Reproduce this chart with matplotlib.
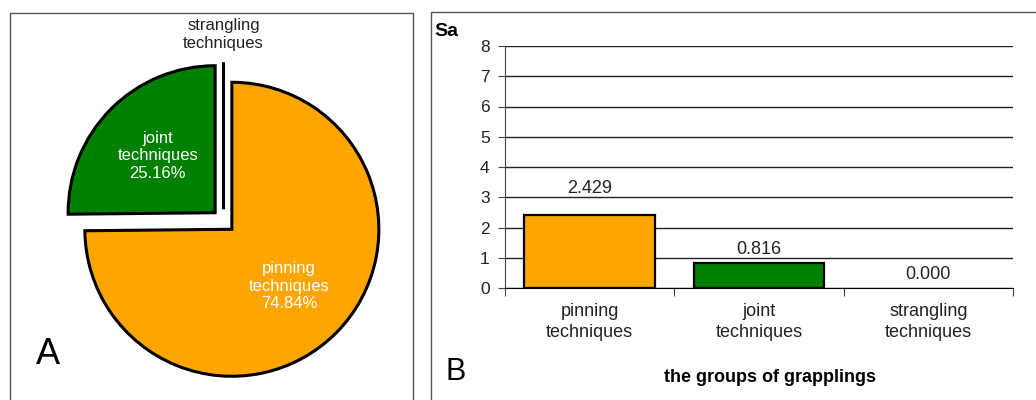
import numpy as np
import matplotlib
matplotlib.use("Agg")
import matplotlib.pyplot as plt
from matplotlib.patches import Rectangle

plt.rcParams['font.family'] = ['Liberation Sans', 'DejaVu Sans']

# pie data (percent)
pie_names = ['pinning\ntechniques', 'joint\ntechniques', 'strangling\ntechniques']
pie_shares = [74.84, 25.16, 0.0]
pie_colors = ['#FFA500', '#008000', '#008000']

# bar data (Sa)
bar_names = ['pinning\ntechniques', 'joint\ntechniques', 'strangling\ntechniques']
sa_values = [2.429, 0.816, 0.000]
bar_colors = ['#FFA500', '#008000', '#008000']
label_pads = [19, 10, 10]

W, H = 1036, 400


def main():
    fig = plt.figure(figsize=(W / 100, H / 100), dpi=100)

    # panel frames
    fig.add_artist(Rectangle((9.5 / W, -0.05), (413 - 9.5) / W, 1.05 - 13 / H,
                             transform=fig.transFigure, fill=False,
                             edgecolor='#555555', lw=1))
    fig.add_artist(Rectangle((431 / W, -0.05), 0.6, 1.05 - 12 / H,
                             transform=fig.transFigure, fill=False,
                             edgecolor='#555555', lw=1))

    # ---- A: pie ----
    R = 147.0
    cx, cy = 223.5, 221.0
    half = 1.2 * R
    ax1 = fig.add_axes([(cx - half) / W, (H - cy - half) / H,
                        2 * half / W, 2 * half / H])
    wedges, _ = ax1.pie(pie_shares, colors=pie_colors, startangle=90,
                        counterclock=False, explode=[0.08] * 3,
                        wedgeprops=dict(edgecolor='black', linewidth=2.2))
    ax1.set_xlim(-1.2, 1.2)
    ax1.set_ylim(-1.2, 1.2)
    ax1.set_aspect('equal')
    ax1.axis('off')

    for w, name, share in zip(wedges, pie_names, pie_shares):
        ang = np.deg2rad((w.theta1 + w.theta2) / 2)
        ox, oy = w.center
        if share > 0:
            d = 0.55
            ax1.text(ox + d * np.cos(ang), oy + d * np.sin(ang),
                     f"{name}\n{share:.2f}%", color='white', fontsize=12,
                     ha='center', va='center', linespacing=1.22)
        else:
            d = 1.19
            ax1.text(ox + d * np.cos(ang), oy + d * np.sin(ang), name,
                     color='#222222', fontsize=12, ha='center', va='center',
                     linespacing=1.3)

    fig.text(36 / W, 1 - 354 / H, 'A', fontsize=26, ha='left', va='center',
             color='black')

    # ---- B: bars ----
    ax2 = fig.add_axes([505 / W, 1 - 288 / H, (1013 - 505) / W, (288 - 46) / H])
    x = np.arange(len(sa_values))
    edge_widths = [1.6 if v > 0 else 0 for v in sa_values]
    bars = ax2.bar(x, sa_values, width=0.77, color=bar_colors,
                   edgecolor='black', linewidth=edge_widths, zorder=3)
    ax2.set_xlim(-0.5, len(sa_values) - 0.5)
    ax2.set_ylim(0, 8)
    ax2.set_yticks(range(0, 9))
    ax2.yaxis.grid(True, color='#222222', lw=1)
    ax2.set_axisbelow(True)
    for s in ['top', 'right']:
        ax2.spines[s].set_visible(False)
    ax2.spines['left'].set_color('#444444')
    ax2.spines['bottom'].set_color('black')
    ax2.tick_params(axis='y', length=5, pad=6, labelsize=12.5,
                    colors='#444444', labelcolor='#222222')
    ax2.set_xticks(np.arange(len(sa_values) + 1) - 0.5)
    ax2.set_xticklabels([])
    ax2.tick_params(axis='x', which='major', length=6, color='#444444')
    ax2.set_xticks(x, minor=True)
    ax2.set_xticklabels(bar_names, minor=True, fontsize=13, color='#222222',
                        linespacing=1.3)
    ax2.tick_params(axis='x', which='minor', length=0, pad=11)

    for b, v, p in zip(bars, sa_values, label_pads):
        ax2.annotate(f"{v:.3f}", (b.get_x() + b.get_width() / 2, v),
                     xytext=(0, p), textcoords='offset points',
                     ha='center', va='center', fontsize=13, color='#222222')

    fig.text(434 / W, 1 - 32 / H, 'Sa', fontsize=14, fontweight='bold',
             ha='left', va='center')
    fig.text(445 / W, 1 - 372 / H, 'B', fontsize=22, ha='left', va='center')
    fig.text(770 / W, 1 - 378 / H, 'the groups of grapplings', fontsize=13,
             fontweight='bold', ha='center', va='center')

    fig.savefig('out.png', dpi=100)


if __name__ == '__main__':
    main()
